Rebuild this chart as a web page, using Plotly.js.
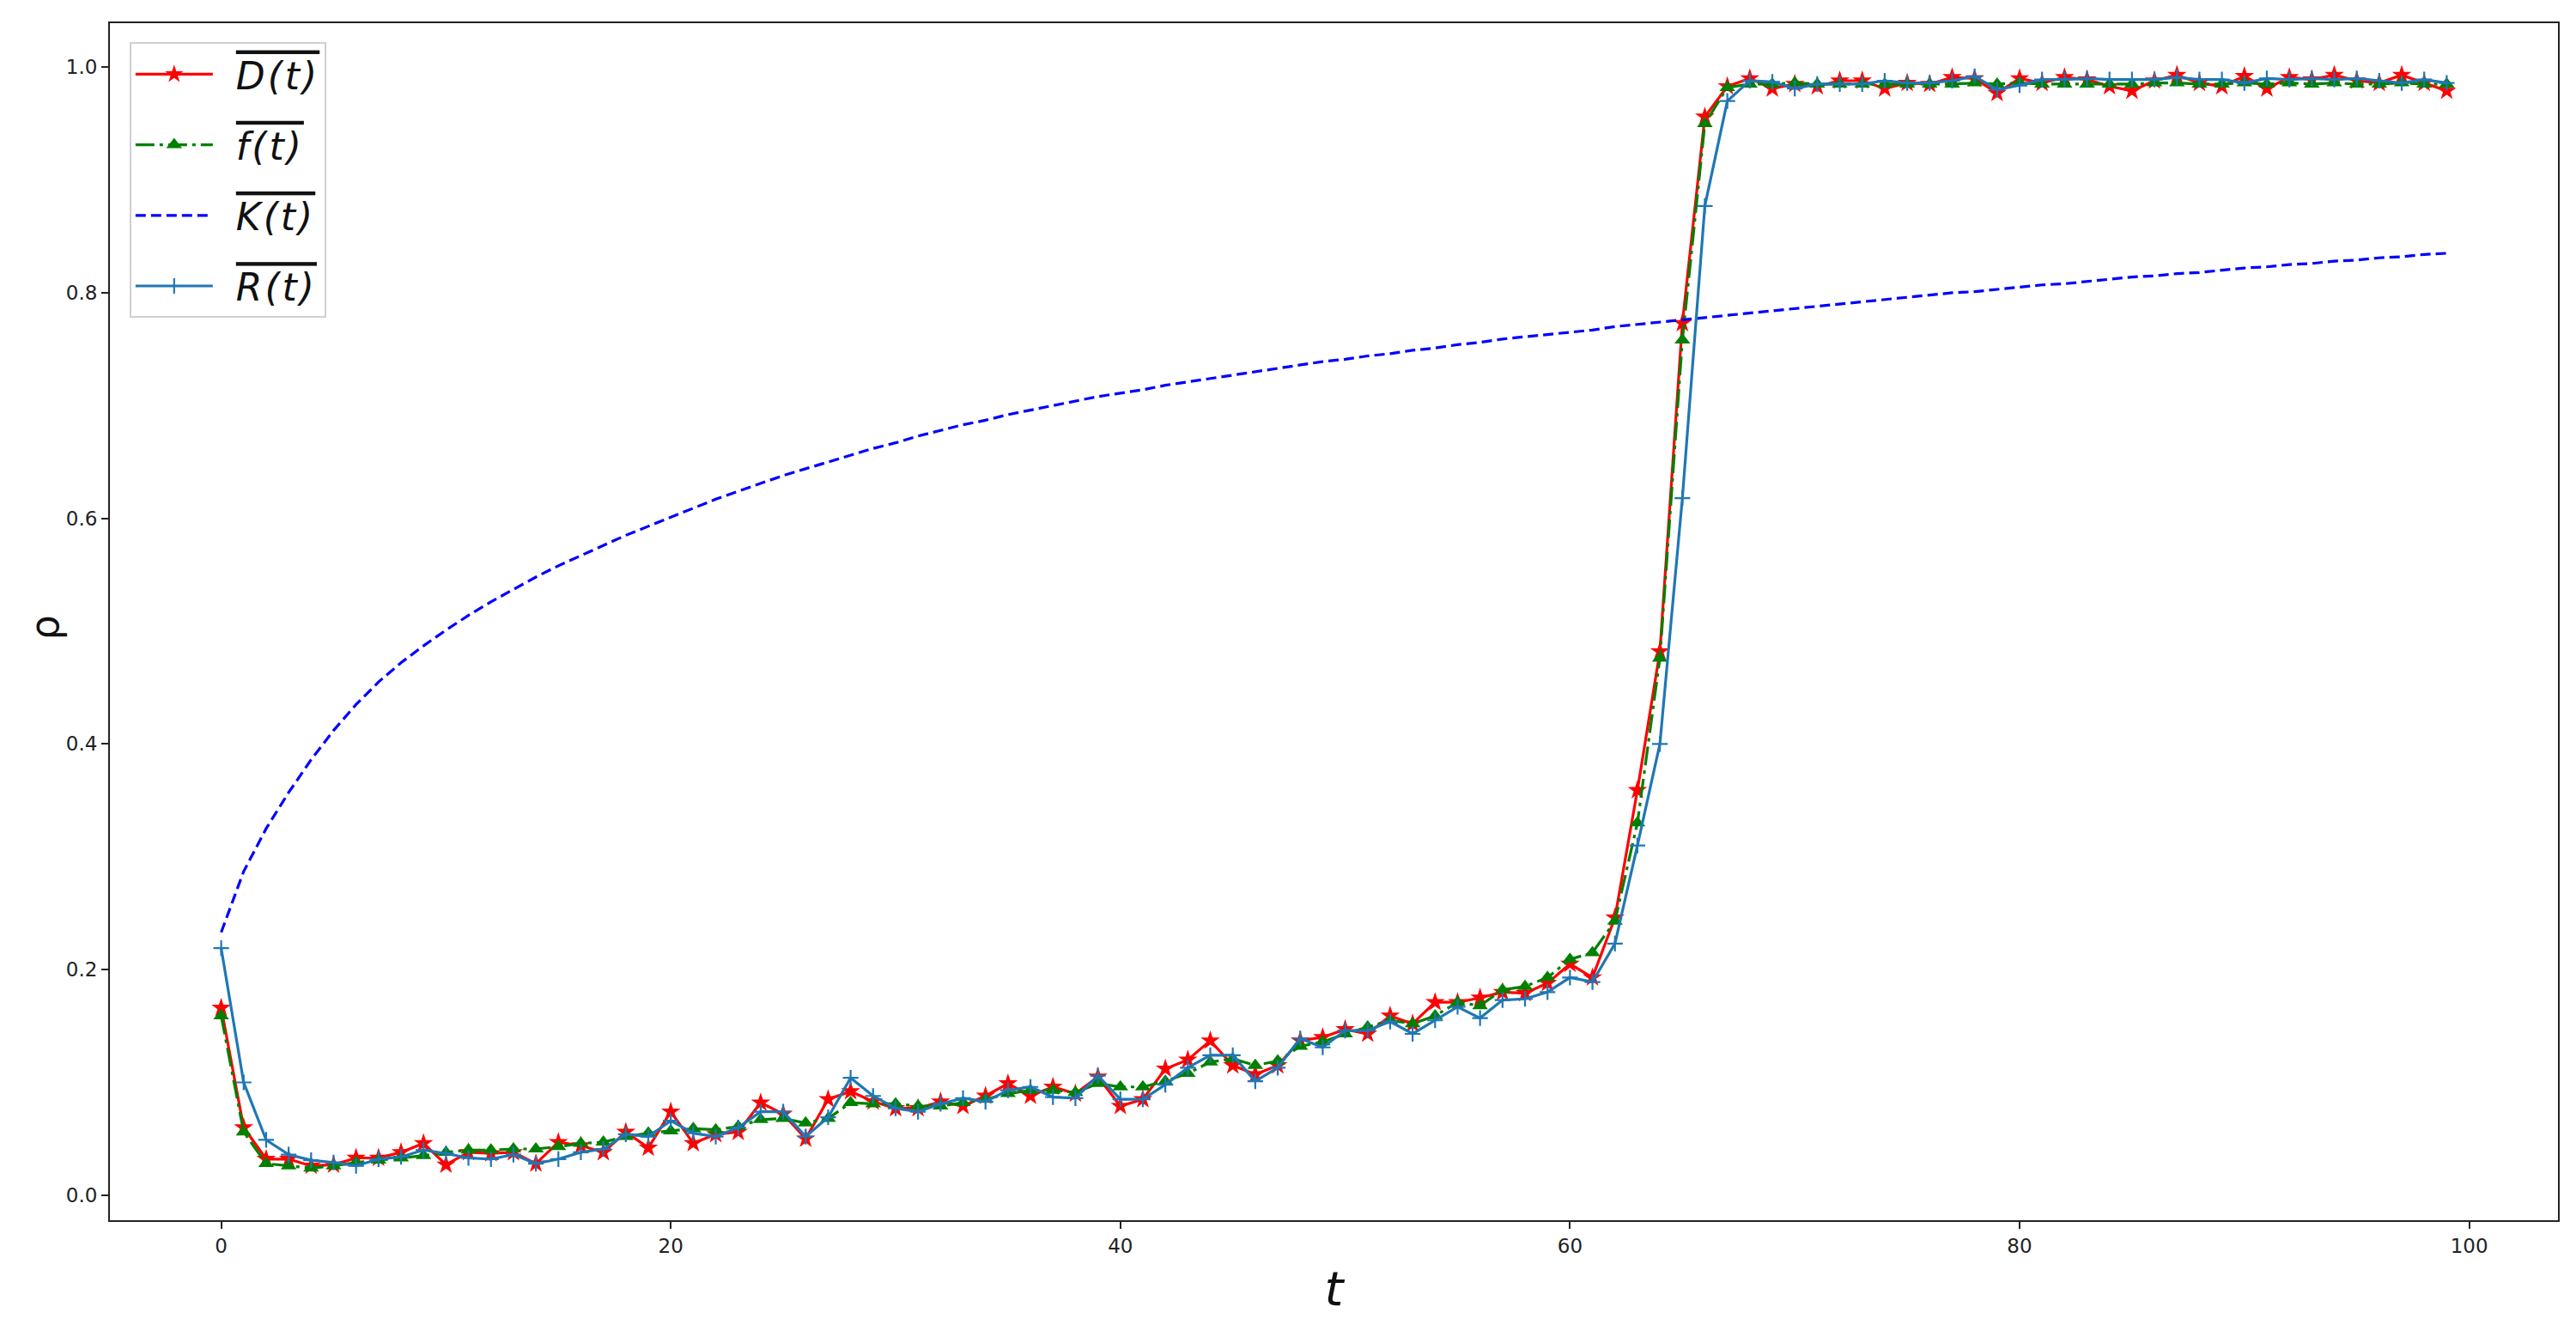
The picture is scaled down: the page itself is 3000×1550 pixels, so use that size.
<!DOCTYPE html>
<html>
<head>
<meta charset="utf-8">
<script src="https://cdn.plot.ly/plotly-3.0.1.min.js"></script>
<style>html,body{margin:0;padding:0;background:#fff;}#chart{width:3000px;height:1550px;}</style>
</head>
<body>
<div id="chart"></div>
<script>
// ---- data ----
const t = [0,1,2,3,4,5,6,7,8,9,10,11,12,13,14,15,16,17,18,19,
  20,21,22,23,24,25,26,27,28,29,30,31,32,33,34,35,36,37,38,39,
  40,41,42,43,44,45,46,47,48,49,50,51,52,53,54,55,56,57,58,59,
  60,61,62,63,64,65,66,67,68,69,70,71,72,73,74,75,76,77,78,79,
  80,81,82,83,84,85,86,87,88,89,90,91,92,93,94,95,96,97,98,99];

const D = [0.166,0.060,0.032,0.032,0.026,0.027,0.033,0.033,0.038,0.046,
  0.027,0.038,0.037,0.038,0.028,0.047,0.044,0.038,0.056,0.042,
  0.074,0.046,0.054,0.056,0.082,0.072,0.050,0.085,0.092,0.083,
  0.077,0.077,0.083,0.079,0.088,0.099,0.088,0.096,0.090,0.105,
  0.079,0.085,0.112,0.120,0.137,0.115,0.107,0.115,0.137,0.140,
  0.147,0.143,0.159,0.152,0.171,0.171,0.175,0.180,0.179,0.188,
  0.205,0.193,0.246,0.359,0.482,0.773,0.956,0.983,0.990,0.981,
  0.985,0.983,0.988,0.988,0.981,0.986,0.985,0.991,0.990,0.977,
  0.990,0.986,0.991,0.989,0.983,0.979,0.988,0.993,0.986,0.983,
  0.992,0.981,0.991,0.989,0.993,0.988,0.986,0.993,0.986,0.979];

const F = [0.159,0.056,0.028,0.026,0.024,0.026,0.029,0.031,0.033,0.035,
  0.038,0.040,0.040,0.041,0.041,0.043,0.046,0.047,0.052,0.055,
  0.057,0.059,0.058,0.061,0.067,0.068,0.064,0.068,0.082,0.081,
  0.081,0.079,0.079,0.082,0.085,0.090,0.093,0.093,0.091,0.099,
  0.096,0.096,0.101,0.108,0.118,0.121,0.115,0.119,0.132,0.136,
  0.143,0.149,0.155,0.152,0.159,0.171,0.168,0.182,0.185,0.193,
  0.209,0.215,0.243,0.330,0.476,0.758,0.950,0.982,0.985,0.985,
  0.986,0.985,0.985,0.985,0.985,0.985,0.985,0.985,0.986,0.985,
  0.986,0.985,0.985,0.985,0.985,0.985,0.986,0.986,0.985,0.985,
  0.986,0.985,0.986,0.985,0.986,0.985,0.985,0.986,0.985,0.985];

const K = [0.233,0.287,0.325,0.357,0.386,0.412,0.435,0.455,0.472,0.487,
  0.501,0.514,0.526,0.537,0.548,0.558,0.567,0.576,0.585,0.593,
  0.601,0.609,0.617,0.624,0.631,0.638,0.644,0.650,0.656,0.662,
  0.667,0.673,0.678,0.683,0.687,0.692,0.696,0.700,0.704,0.708,
  0.711,0.714,0.718,0.721,0.724,0.727,0.730,0.733,0.736,0.739,
  0.741,0.744,0.746,0.749,0.751,0.754,0.756,0.759,0.761,0.763,
  0.765,0.767,0.770,0.772,0.774,0.776,0.778,0.780,0.782,0.784,
  0.786,0.788,0.790,0.792,0.794,0.796,0.798,0.800,0.801,0.803,
  0.805,0.807,0.808,0.810,0.812,0.814,0.815,0.817,0.818,0.820,
  0.822,0.823,0.825,0.826,0.828,0.829,0.831,0.832,0.834,0.835];

const R = [0.219,0.100,0.049,0.036,0.031,0.029,0.026,0.032,0.034,0.040,
  0.037,0.033,0.032,0.036,0.028,0.032,0.038,0.041,0.054,0.052,
  0.066,0.055,0.052,0.060,0.074,0.074,0.052,0.069,0.104,0.088,
  0.077,0.074,0.081,0.086,0.083,0.093,0.096,0.087,0.086,0.106,
  0.085,0.085,0.098,0.113,0.124,0.124,0.101,0.113,0.139,0.131,
  0.146,0.146,0.154,0.143,0.155,0.167,0.157,0.173,0.174,0.180,
  0.193,0.189,0.223,0.310,0.400,0.618,0.877,0.970,0.988,0.987,
  0.981,0.985,0.985,0.985,0.988,0.986,0.986,0.988,0.992,0.980,
  0.984,0.989,0.989,0.990,0.989,0.989,0.989,0.991,0.989,0.989,
  0.986,0.990,0.989,0.990,0.989,0.990,0.988,0.986,0.989,0.986];

const seriesLabels = ['D(t)', 'f(t)', 'K(t)', 'R(t)'];
const xTicks = [0, 20, 40, 60, 80, 100];
const yTicks = [0.0, 0.2, 0.4, 0.6, 0.8, 1.0];
const xTitle = '<i>t</i>';
const yTitle = 'ρ';

const legendName = s => '\u2002<span style="text-decoration:overline;letter-spacing:3px"><i>' + s + '</i></span>';

// ---- traces ----
const traces = [
  {x: t, y: D, name: legendName(seriesLabels[0]), mode: 'lines+markers', legendgroup: 'a',
   line: {color: '#ff0000', width: 3.2},
   marker: {symbol: 'star', size: 17, color: '#ff0000'}},
  {x: t, y: F, name: legendName(seriesLabels[1]), mode: 'lines+markers', legendgroup: 'b',
   line: {color: '#008000', width: 3.2, dash: '22px,6px,4px,6px'},
   marker: {symbol: 'triangle-up', size: 16, color: '#008000'}},
  {x: t, y: K, name: legendName(seriesLabels[2]), mode: 'lines', legendgroup: 'c',
   line: {color: '#0000ff', width: 3.2, dash: '12px,6px'}},
  {x: t, y: R, name: legendName(seriesLabels[3]), mode: 'lines+markers', legendgroup: 'd',
   line: {color: '#1f77b4', width: 3.2},
   marker: {symbol: 'cross-thin', size: 13, color: '#1f77b4', line: {color: '#1f77b4', width: 2.2}}}
];

const axisCommon = {
  showgrid: false, zeroline: false, showline: true, mirror: true,
  linecolor: '#222', linewidth: 2, ticks: 'outside', ticklen: 8, tickwidth: 2,
  tickcolor: '#222', tickfont: {family: 'DejaVu Sans', size: 23, color: '#222'}
};

const layout = {
  width: 3000, height: 1550, autosize: false,
  paper_bgcolor: '#fff', plot_bgcolor: '#fff',
  margin: {l: 128, r: 21, t: 27, b: 129, pad: 0},
  showlegend: true,
  legend: {
    x: 0.008, y: 0.984, xanchor: 'left', yanchor: 'top',
    bgcolor: 'rgba(255,255,255,0.8)', bordercolor: '#d0d0d0', borderwidth: 2,
    font: {family: 'DejaVu Sans', size: 44, color: '#111'},
    itemwidth: 90, tracegroupgap: 22, traceorder: 'grouped'
  },
  xaxis: Object.assign({}, axisCommon, {
    range: [-4.95, 103.95], tickmode: 'array', tickvals: xTicks,
    ticktext: xTicks.map(String),
    title: {text: xTitle, font: {family: 'DejaVu Sans', size: 56, color: '#111'}, standoff: 18}
  }),
  yaxis: Object.assign({}, axisCommon, {
    range: [-0.0222, 1.039], tickmode: 'array', tickvals: yTicks,
    ticktext: yTicks.map(v => v.toFixed(1)),
    title: {text: ''}
  }),
  annotations: [{
    text: yTitle, xref: 'paper', yref: 'paper', x: -0.0265, y: 0.495,
    xanchor: 'center', yanchor: 'middle', textangle: -90, showarrow: false,
    font: {family: 'DejaVu Sans', size: 46, color: '#111'}
  }]
};

Plotly.newPlot('chart', traces, layout, {displayModeBar: false, staticPlot: true});
</script>
</body>
</html>
